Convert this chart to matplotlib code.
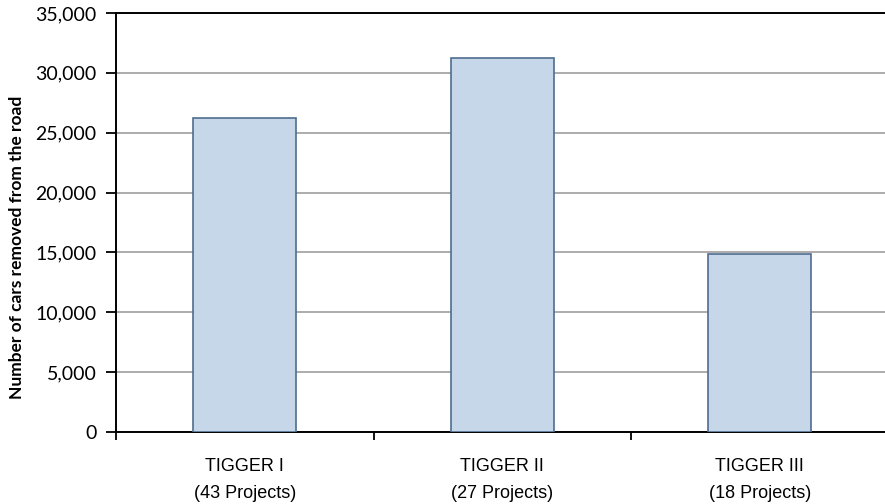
import matplotlib.pyplot as plt
from matplotlib.ticker import FuncFormatter, FixedLocator

programs = ["TIGGER I", "TIGGER II", "TIGGER III"]
project_counts = [43, 27, 18]
cars_removed = [26200, 31200, 14850]

BAR_FILL = "#c6d7ea"
BAR_EDGE = "#4f6d8f"

fig = plt.figure(figsize=(8.85, 5.04), dpi=100)
ax = fig.add_axes([116 / 885, 1 - 432 / 504, 772.5 / 885, 419 / 504])

x = list(range(len(programs)))
ax.bar(x, cars_removed, width=0.40, color=BAR_FILL, edgecolor=BAR_EDGE,
       linewidth=1.2, zorder=3)

ax.set_xlim(-0.5, len(programs) - 0.5)
ax.set_ylim(0, 35000)
ax.set_yticks(range(0, 35001, 5000))
ax.yaxis.set_major_formatter(FuncFormatter(lambda v, _: f"{int(v):,}"))
ax.grid(axis="y", color="#a6a6a6", linewidth=1.3, zorder=0)

# category labels sit between the boundary ticks
ax.set_xticks(x)
ax.set_xticklabels([f"{p}\n({n} Projects)" for p, n in zip(programs, project_counts)],
                   family=["Liberation Sans Narrow", "Liberation Sans", "DejaVu Sans"],
                   fontsize=13, linespacing=1.75)
ax.tick_params(axis="x", length=0, pad=19)
ax.xaxis.set_minor_locator(FixedLocator([-0.5, 0.5, 1.5, 2.5]))
ax.tick_params(axis="x", which="minor", length=6, width=1.3, direction="out", color="black")

ax.tick_params(axis="y", length=7, width=1.3, direction="out", labelsize=14, pad=7)
for lbl in ax.get_yticklabels():
    lbl.set_family(["Lato", "DejaVu Sans"])

for side in ("left", "bottom", "top"):
    ax.spines[side].set_linewidth(1.4)
    ax.spines[side].set_color("black")
ax.spines["right"].set_visible(False)

ax.set_ylabel("Number of cars removed from the road", fontsize=12.5,
              fontweight="bold", family=["Lato", "DejaVu Sans"])
ax.yaxis.set_label_coords(-0.118, 0.44)

fig.savefig("out.png", dpi=100)
